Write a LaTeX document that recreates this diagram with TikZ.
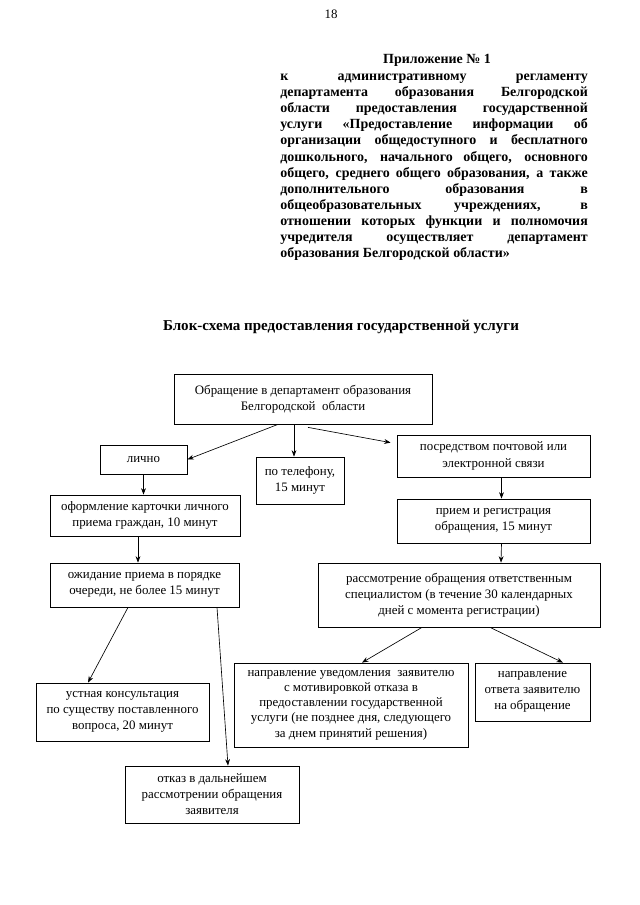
\documentclass[tikz,border=0pt]{standalone}
\usepackage{fontspec}
\setmainfont{Liberation Serif}
\usetikzlibrary{arrows.meta,calc}
\hyphenpenalty=10000
\exhyphenpenalty=10000

\begin{document}
\begin{tikzpicture}[x=0.93pt,y=-0.93pt,line width=0.6pt,
  blk/.style={draw,line width=0.7pt,align=center,inner sep=0pt,
    font=\fontsize{12}{15}\selectfont},
  sz/.style 2 args={minimum width=#1*0.93pt,minimum height=#2*0.93pt},
  arr/.style={-{Stealth[length=6pt,width=4.5pt]},line width=0.6pt}]

  \useasboundingbox (0,0) rectangle (640,905);

  % --- page number and heading ---
  \node[font=\fontsize{12}{14}\selectfont] (pg) at (331,14) {18};
  \node[font=\bfseries\fontsize{13}{15}\selectfont] (app) at (437,60) {Приложение № 1};
  \node[anchor=north west,inner sep=0pt,text width=286pt,align=justify,
        font=\bfseries\fontsize{13}{14.9}\selectfont] (prilozh) at (280,74)
    {к административному регламенту\linebreak
     департамента образования Белгородской\linebreak
     области предоставления государственной\linebreak
     услуги «Предоставление информации об\linebreak
     организации общедоступного и бесплатного\linebreak
     дошкольного, начального общего, основного\linebreak
     общего, среднего общего образования, а также\linebreak
     дополнительного образования в\linebreak
     общеобразовательных учреждениях, в\linebreak
     отношении которых функции и полномочия\linebreak
     учредителя осуществляет департамент\linebreak
     образования Белгородской области»};

  \node[font=\bfseries\fontsize{14}{16}\selectfont] (ttl) at (341,327)
    {Блок-схема предоставления государственной услуги};

  % --- boxes of the block scheme (centre, width x height in px) ---
  \node[blk,sz={258}{50}] (obr) at (303,399)
    {Обращение в департамент образования\\Белгородской~ области};
  \node[blk,sz={87}{29}] (lich) at (143.5,459.5) {лично};
  \node[blk,sz={88}{47}] (tel) at (300,480.5) {по телефону,\\15 минут};
  \node[blk,sz={193}{42}] (post) at (493.5,456)
    {посредством почтовой или\\электронной связи};
  \node[blk,sz={190}{41}] (kart) at (145,515.5)
    {оформление карточки личного\\приема граждан, 10 минут};
  \node[blk,sz={193}{44}] (priem) at (493.5,521)
    {прием и регистрация\\обращения, 15 минут};
  \node[blk,sz={189}{44}] (ozhid) at (144.5,585)
    {ожидание приема в порядке\\очереди, не более 15 минут};
  \node[blk,sz={282}{64}] (rassm) at (459,595)
    {рассмотрение обращения ответственным\\специалистом (в течение 30 календарных\\дней с момента регистрации)};
  \node[blk,sz={173}{58}] (ustn) at (122.5,712)
    {устная консультация\\по существу поставленного\\вопроса, 20 минут};
  \node[blk,sz={174}{57}] (otkaz) at (212,794.5)
    {отказ в дальнейшем\\рассмотрении обращения\\заявителя};
  \node[blk,sz={234}{84},font=\fontsize{12}{14.2}\selectfont] (uved) at (351,705)
    {направление уведомления~ заявителю\\с мотивировкой отказа в\\предоставлении государственной\\услуги (не позднее дня, следующего\\за днем принятий решения)};
  \node[blk,sz={115}{58}] (otvet) at (532.5,692)
    {направление\\ответа заявителю\\на обращение};

  % --- arrows ---
  \draw[arr] ($(obr.south)+(-25,0)$) -- (lich.east);
  \draw[arr] ($(obr.south)+(-9,0)$) -- ($(tel.north)+(-6,0)$);
  \draw[arr] ($(obr.south)+(5,3)$) -- ($(post.north west)+(-6,8)$);
  \draw[arr] (lich.south) -- (lich.south |- kart.north);
  \draw[arr] ($(kart.south)+(-7,0)$) -- ($(ozhid.north)+(-6.5,0)$);
  \draw[arr] ($(post.south)+(8,0)$) -- ($(priem.north)+(8,0)$);
  \draw[arr] ($(priem.south)+(8,0)$) -- ($(rassm.north)+(42,0)$);
  \draw[arr] ($(ozhid.south)+(-16.5,0)$) -- ($(ustn.north)+(-34.5,0)$);
  \draw[arr] ($(ozhid.south)+(72.5,0)$) -- ($(otkaz.north)+(16,0)$);
  \draw[arr] ($(rassm.south)+(-37,0)$) -- ($(uved.north)+(11,0)$);
  \draw[arr] ($(rassm.south)+(31,0)$) -- ($(otvet.north)+(30.5,0)$);

\end{tikzpicture}
\end{document}
